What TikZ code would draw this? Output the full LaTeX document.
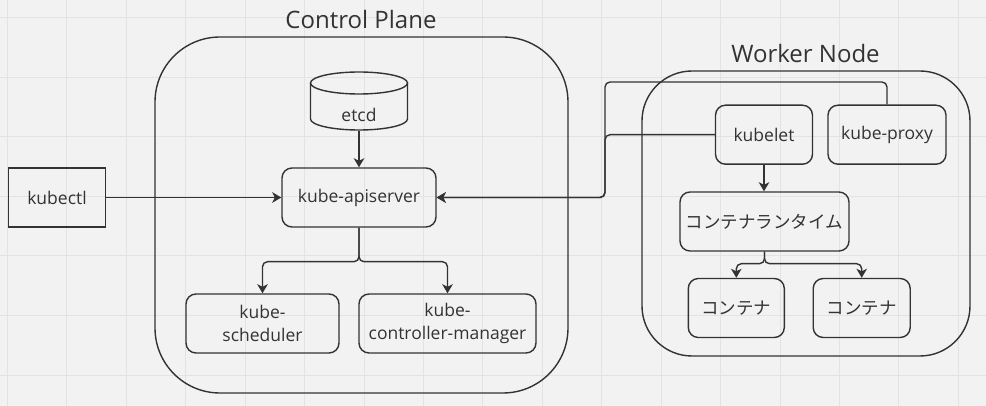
\documentclass[tikz,border=0pt]{standalone}
\usepackage{fontspec}
\setmainfont{Open Sans}
\newfontfamily\jpfont{Noto Sans CJK JP}
\usepackage{tikz}
\usetikzlibrary{arrows.meta}
\definecolor{bgc}{HTML}{F2F2F2}
\definecolor{gridc}{HTML}{E3E3E3}
\definecolor{linec}{HTML}{333333}
\definecolor{textc}{HTML}{333333}

\begin{document}
\begin{tikzpicture}[x=1pt, y=-1pt,
        box/.style={draw=linec, line width=1.4pt, rounded corners=10pt, align=center, text=textc, inner sep=0pt, font=\fontsize{17.5}{23}\selectfont},
        plainbox/.style={box, rounded corners=0pt},
        group/.style={draw=linec, line width=1.4pt, inner sep=0pt},
        title/.style={text=textc, inner sep=0pt, font=\fontsize{24}{28}\selectfont},
        conn/.style={draw=linec, line width=1.4pt, rounded corners=5pt, -{Stealth[length=9pt, width=10.5pt, inset=2.5pt]}}]
            \useasboundingbox (0,0) rectangle (986,406);
            \fill[bgc] (0,0) rectangle (986,406);

            \draw[gridc, line width=1pt] (7.5 + 0*59.43, 0) -- (7.5 + 0*59.43, 406);
            \draw[gridc, line width=1pt] (7.5 + 1*59.43, 0) -- (7.5 + 1*59.43, 406);
            \draw[gridc, line width=1pt] (7.5 + 2*59.43, 0) -- (7.5 + 2*59.43, 406);
            \draw[gridc, line width=1pt] (7.5 + 3*59.43, 0) -- (7.5 + 3*59.43, 406);
            \draw[gridc, line width=1pt] (7.5 + 4*59.43, 0) -- (7.5 + 4*59.43, 406);
            \draw[gridc, line width=1pt] (7.5 + 5*59.43, 0) -- (7.5 + 5*59.43, 406);
            \draw[gridc, line width=1pt] (7.5 + 6*59.43, 0) -- (7.5 + 6*59.43, 406);
            \draw[gridc, line width=1pt] (7.5 + 7*59.43, 0) -- (7.5 + 7*59.43, 406);
            \draw[gridc, line width=1pt] (7.5 + 8*59.43, 0) -- (7.5 + 8*59.43, 406);
            \draw[gridc, line width=1pt] (7.5 + 9*59.43, 0) -- (7.5 + 9*59.43, 406);
            \draw[gridc, line width=1pt] (7.5 + 10*59.43, 0) -- (7.5 + 10*59.43, 406);
            \draw[gridc, line width=1pt] (7.5 + 11*59.43, 0) -- (7.5 + 11*59.43, 406);
            \draw[gridc, line width=1pt] (7.5 + 12*59.43, 0) -- (7.5 + 12*59.43, 406);
            \draw[gridc, line width=1pt] (7.5 + 13*59.43, 0) -- (7.5 + 13*59.43, 406);
            \draw[gridc, line width=1pt] (7.5 + 14*59.43, 0) -- (7.5 + 14*59.43, 406);
            \draw[gridc, line width=1pt] (7.5 + 15*59.43, 0) -- (7.5 + 15*59.43, 406);
            \draw[gridc, line width=1pt] (7.5 + 16*59.43, 0) -- (7.5 + 16*59.43, 406);

            \draw[gridc, line width=1pt] (0, 18 + 0*59.5) -- (986, 18 + 0*59.5);
            \draw[gridc, line width=1pt] (0, 18 + 1*59.5) -- (986, 18 + 1*59.5);
            \draw[gridc, line width=1pt] (0, 18 + 2*59.5) -- (986, 18 + 2*59.5);
            \draw[gridc, line width=1pt] (0, 18 + 3*59.5) -- (986, 18 + 3*59.5);
            \draw[gridc, line width=1pt] (0, 18 + 4*59.5) -- (986, 18 + 4*59.5);
            \draw[gridc, line width=1pt] (0, 18 + 5*59.5) -- (986, 18 + 5*59.5);
            \draw[gridc, line width=1pt] (0, 18 + 6*59.5) -- (986, 18 + 6*59.5);

            \node[group, rounded corners=65pt, minimum width=413pt, minimum height=356pt] (cp) at (361.5,215) {};
            \node[title] (cptitle) at (361,20) {Control Plane};
            \node[group, rounded corners=50pt, minimum width=328pt, minimum height=285pt] (wn) at (806,213.5) {};
            \node[title] (wntitle) at (805.5,54) {Worker Node};

            \draw[linec, line width=1.4pt] (310.5,83) -- (310.5,119) arc[start angle=180, end angle=0, x radius=48.5, y radius=11] -- (407.5,83);
            \draw[linec, line width=1.4pt] (359,83) ellipse[x radius=48.5, y radius=11];
            \node[box, draw=none, minimum width=97pt, minimum height=30pt] (etcd) at (359,115) {etcd};

            \node[plainbox, line width=1.2pt, minimum width=97pt, minimum height=59pt] (kubectl) at (57,197.5) {kubectl};
            \node[box, minimum width=154pt, minimum height=59pt] (api) at (359,197.5) {kube-apiserver};
            \node[box, minimum width=153pt, minimum height=59pt] (sched) at (262.5,323.5) {kube-\\scheduler};
            \node[box, minimum width=177pt, minimum height=59pt] (ctrl) at (447.5,323.5) {kube-\\controller-manager};

            \node[box, minimum width=97pt, minimum height=59pt] (kubelet) at (764,134.7) {kubelet};
            \node[box, minimum width=118pt, minimum height=59pt] (proxy) at (887,134.7) {kube-proxy};
            \node[box, minimum width=169pt, minimum height=59pt] (runtime) at (764.5,221.5) {\jpfont コンテナランタイム};
            \node[box, minimum width=96pt, minimum height=59pt] (c1) at (736.3,308) {\jpfont コンテナ};
            \node[box, minimum width=97pt, minimum height=59pt] (c2) at (861.7,308) {\jpfont コンテナ};

            \coordinate (wtop) at (605,82);
            \coordinate (wjoin) at (605,197.5);

            \draw[conn] (etcd.south) -- (api.north);
            \draw[conn] (kubectl.east) -- (api.west);
            \draw[conn] (api.south) -- ++(0,34) -| (sched.north);
            \draw[conn] (api.south) -- ++(0,34) -| (ctrl.north);
            \draw[conn] (kubelet.west) -| (wjoin) -- (api.east);
            \draw[conn] (proxy.north) |- (wtop) -- (wjoin) -- (api.east);
            \draw[conn] (kubelet.south) -- (kubelet.south |- runtime.north);
            \draw[conn] (runtime.south) -- ++(0,12) -| (c1.north);
            \draw[conn] (runtime.south) -- ++(0,12) -| (c2.north);
        \end{tikzpicture}
\end{document}
